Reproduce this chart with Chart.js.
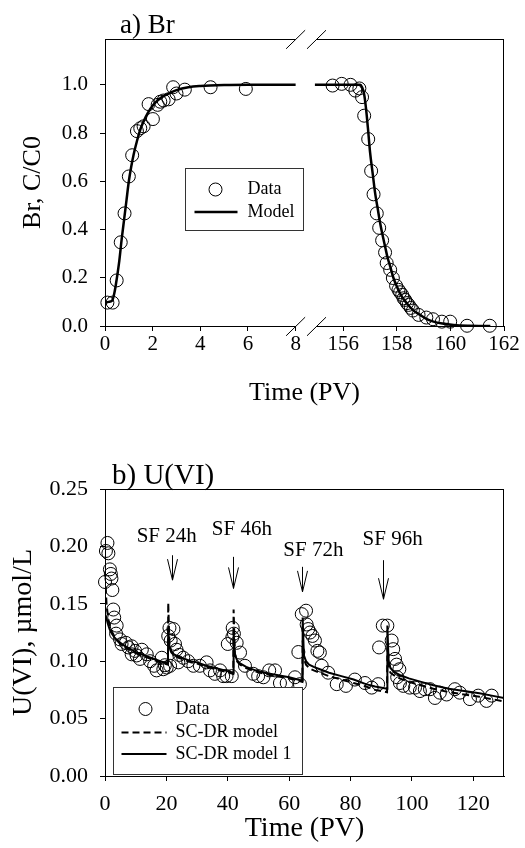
<!DOCTYPE html>
<html lang="en">
<head>
<meta charset="UTF-8">
<title>Br and U(VI) breakthrough</title>
<script src="https://cdn.jsdelivr.net/npm/chart.js"></script>
<style>
    body { margin: 0; background: #fff; }
    #wrap { position: relative; width: 525px; height: 848px; }
    #brChart { position: absolute; left: 0; top: 0; }
    #uChart { position: absolute; left: 0; top: 415px; }
</style>
</head>
<body>
<div id="wrap">
    <canvas id="brChart" width="525" height="415"></canvas>
    <canvas id="uChart" width="525" height="433"></canvas>
</div>
<script>
// ---------- a) Br ----------
const brDataX = [0.1, 0.32, 0.49, 0.66, 0.82, 1.0, 1.14, 1.34, 1.48, 1.62, 1.83, 2.01, 2.21, 2.32, 2.46, 2.67, 2.86, 3.0, 3.35, 4.43, 5.91,
                 155.60, 155.94, 156.27, 156.45, 156.60, 156.70, 156.78, 156.93, 157.04, 157.13, 157.25, 157.34, 157.45, 157.56, 157.62,
                 157.75, 157.85, 157.97, 158.06, 158.12, 158.20, 158.25, 158.31, 158.38, 158.44, 158.52, 158.60, 158.81, 159.10, 159.35,
                 159.68, 159.99, 160.62, 161.47];
const brDataY = [0.097, 0.097, 0.189, 0.347, 0.467, 0.62, 0.708, 0.808, 0.82, 0.828, 0.92, 0.858, 0.917, 0.93, 0.935, 0.94, 0.99, 0.964, 0.98, 0.99, 0.983,
                 0.997, 1.004, 1.0, 0.976, 0.985, 0.949, 0.872, 0.775, 0.643, 0.546, 0.467, 0.407, 0.355, 0.305, 0.261,
                 0.233, 0.199, 0.167, 0.15, 0.14, 0.129, 0.115, 0.108, 0.095, 0.0875, 0.075, 0.064, 0.046, 0.035, 0.028,
                 0.018, 0.018, 0.001, 0.001];

const brModelLeftX = [0, 0.15, 0.3, 0.4, 0.5, 0.6, 0.7, 0.8, 0.9, 1.0, 1.1, 1.2, 1.35, 1.5, 1.7, 1.9, 2.1, 2.4, 2.7, 3.0, 3.5, 4.0, 5.0, 6.0, 7.0, 8.0];
const brModelLeftY = [0.095, 0.1, 0.105, 0.14, 0.2, 0.27, 0.36, 0.44, 0.52, 0.6, 0.66, 0.71, 0.77, 0.82, 0.865, 0.9, 0.925, 0.95, 0.965, 0.978, 0.99, 0.995, 0.999, 1.0, 1.0, 1.0];
const brModelRightX = [154.94, 156.0, 156.63, 156.70, 156.78, 156.85, 156.92, 157.0, 157.1, 157.19, 157.28, 157.37, 157.46, 157.56,
                       157.65, 157.75, 157.87, 158.0, 158.17, 158.37, 158.6, 158.87, 159.1, 159.37, 159.7, 160.12, 160.7, 161.49];
const brModelRightY = [1.0, 1.0, 1.0, 0.99, 0.96, 0.9, 0.82, 0.72, 0.63, 0.55, 0.49, 0.43, 0.38, 0.33,
                       0.285, 0.247, 0.2, 0.164, 0.125, 0.094, 0.066, 0.046, 0.03, 0.018, 0.01, 0.004, 0.001, 0.0];

const brTicksX = [0, 2, 4, 6, 8, 156, 158, 160, 162];
const brTicksY = [0, 0.2, 0.4, 0.6, 0.8, 1.0];

// ---------- b) U(VI) ----------
const uDataX = [0.0, 0.3, 0.8, 1.1, 1.6, 1.9, 2.1, 2.4, 2.7, 3.0, 3.8, 3.6, 4.9, 5.4, 6.8, 7.6, 8.7, 8.7, 9.8, 10.3, 12.0, 11.4, 13.6, 14.7, 16.0, 16.8, 18.5, 19.0, 20.1, 19.5,
                20.6, 21.0, 21.4, 22.3, 22.8, 23.3, 24.2, 25.5, 23.9, 21.2, 27.1, 28.8, 30.9, 33.1, 34.2, 35.8, 37.5, 38.5, 39.6, 41.3,
                40.0, 41.6, 42.0, 42.9, 41.5, 44.0, 45.6, 48.3, 49.9, 51.6, 53.5, 55.4, 57.0, 59.2, 61.9, 63.5,
                63.0, 64.1, 65.5, 65.7, 66.2, 66.8, 67.6, 68.4, 69.2, 70.0, 70.6, 72.7, 75.5, 78.5, 81.4, 84.7, 86.9, 89.0,
                90.5, 92.0, 89.3, 93.4, 93.9, 94.5, 95.0, 95.9, 95.2, 96.1, 97.2, 99.3, 101.0, 102.6, 104.2, 105.9, 107.5, 109.1, 111.3, 114.0, 115.6, 118.9, 121.6, 124.3, 126.0];
const uDataY = [0.169, 0.196, 0.203, 0.194, 0.180, 0.176, 0.172, 0.162, 0.145, 0.138, 0.131, 0.124, 0.119, 0.115, 0.116, 0.112, 0.113, 0.106, 0.109, 0.105, 0.110, 0.102, 0.106, 0.100, 0.096, 0.092, 0.103, 0.093, 0.0945, 0.0965,
                0.122, 0.129, 0.118, 0.128, 0.115, 0.110, 0.1055, 0.103, 0.099, 0.096, 0.100, 0.096, 0.096, 0.099, 0.092, 0.089, 0.092, 0.087, 0.087, 0.087,
                0.115, 0.129, 0.124, 0.116, 0.121, 0.1075, 0.096, 0.089, 0.087, 0.086, 0.092, 0.092, 0.081, 0.081, 0.086, 0.080,
                0.108, 0.141, 0.144, 0.132, 0.128, 0.125, 0.122, 0.118, 0.109, 0.1075, 0.096, 0.090, 0.080, 0.0785, 0.084, 0.081, 0.077, 0.080,
                0.131, 0.131, 0.112, 0.118, 0.1105, 0.102, 0.097, 0.093, 0.086, 0.081, 0.0785, 0.077, 0.077, 0.074, 0.0756, 0.0756, 0.068, 0.0726, 0.071, 0.0756, 0.0726, 0.067, 0.070, 0.0654, 0.070];

const uModelX = [0.2, 0.5, 1, 1.5, 2, 3, 4, 5, 6, 8, 10, 12, 14, 16, 18, 20.5,
                 20.6, 21.0, 21.5, 22.5, 24, 26, 28, 30, 33, 36, 39, 41.8,
                 41.9, 42.3, 43, 44, 46, 49, 52, 56, 60, 64.3,
                 64.4, 64.8, 65.5, 66.5, 68, 70, 73, 77, 81, 85, 88, 91.9,
                 92.0, 92.4, 93, 94, 96, 99, 103, 107, 112, 117, 122, 126, 130];
const uModelDashY = [0.165, 0.150, 0.138, 0.131, 0.127, 0.122, 0.118, 0.115, 0.113, 0.110, 0.107, 0.105, 0.103, 0.101, 0.099, 0.097,
                     0.151, 0.115, 0.109, 0.105, 0.103, 0.101, 0.099, 0.098, 0.095, 0.093, 0.091, 0.089,
                     0.145, 0.107, 0.100, 0.097, 0.094, 0.091, 0.089, 0.087, 0.085, 0.082,
                     0.118, 0.102, 0.097, 0.094, 0.092, 0.090, 0.087, 0.084, 0.081, 0.078, 0.075, 0.073,
                     0.105, 0.094, 0.090, 0.088, 0.085, 0.082, 0.079, 0.076, 0.073, 0.071, 0.069, 0.067, 0.065];
const uModelSolidY = [0.140, 0.137, 0.132, 0.128, 0.125, 0.121, 0.118, 0.116, 0.114, 0.111, 0.108, 0.106, 0.104, 0.102, 0.100, 0.098,
                      0.128, 0.113, 0.109, 0.106, 0.104, 0.102, 0.100, 0.099, 0.096, 0.094, 0.092, 0.090,
                      0.126, 0.106, 0.101, 0.098, 0.095, 0.092, 0.090, 0.088, 0.086, 0.083,
                      0.138, 0.105, 0.100, 0.097, 0.095, 0.093, 0.090, 0.087, 0.084, 0.080, 0.078, 0.076,
                      0.131, 0.100, 0.094, 0.091, 0.088, 0.085, 0.082, 0.079, 0.076, 0.074, 0.072, 0.070, 0.068];

const uTicksX = [0, 20, 40, 60, 80, 100, 120];
const uTicksY = [0, 0.05, 0.10, 0.15, 0.20, 0.25];

// stop-flow marks
const sfLabels = ['SF 24h', 'SF 46h', 'SF 72h', 'SF 96h'];
const sfTextX = [20.1, 44.6, 67.9, 93.7];
const sfTextY = [0.209, 0.215, 0.1967, 0.206];
const sfArrowX = [21.7, 41.8, 64.1, 90.5];
const sfArrowTopY = [0.1923, 0.1909, 0.1822, 0.188];
const sfArrowTipY = [0.1706, 0.1634, 0.1604, 0.154];

// broken time axis for panel a: 0..8 PV, then 155..162 PV drawn a bit wider
const BREAK_LO = 8, BREAK_HI = 155;
function brk(x) {
    return x <= BREAK_LO ? x : 10 + (x - 156) * 1.124;
}

const SERIF = '"Liberation Serif", "Times New Roman", serif';
Chart.defaults.font.family = SERIF;
Chart.defaults.color = '#000';

// frame, break marks, panel title, boxed legend and stop-flow arrows
const panelDecor = {
    id: 'panelDecor',
    afterDatasetsDraw(chart, args, o) {
        const ctx = chart.ctx, a = chart.chartArea;
        const xs = chart.scales.x, ys = chart.scales.y;
        ctx.save();
        ctx.strokeStyle = '#000';
        ctx.lineWidth = 1;
        const top = Math.round(a.top) + 0.5, bot = Math.round(a.bottom) + 0.5, right = Math.round(a.right) - 0.5;
        ctx.beginPath();
        if (o.breakAt) {
            const b1 = xs.getPixelForValue(o.breakAt[0]), b2 = xs.getPixelForValue(o.breakAt[1]);
            [top, bot].forEach(y => {
                ctx.moveTo(a.left, y); ctx.lineTo(b1, y);
                ctx.moveTo(b2, y); ctx.lineTo(a.right, y);
                ctx.moveTo(b1 - 9.5, y + 9.3); ctx.lineTo(b1 + 9.5, y - 9.3);
                ctx.moveTo(b2 - 9.5, y + 9.3); ctx.lineTo(b2 + 9.5, y - 9.3);
            });
        } else {
            ctx.moveTo(a.left, top); ctx.lineTo(a.right, top);
        }
        ctx.moveTo(right, a.top); ctx.lineTo(right, a.bottom);
        ctx.stroke();

        // panel title
        ctx.fillStyle = '#000';
        ctx.font = o.titleSize + 'px ' + SERIF;
        ctx.textAlign = 'left';
        ctx.textBaseline = 'alphabetic';
        ctx.fillText(o.title, a.left + o.titleDx, a.top - o.titleDy);

        // stop-flow arrows
        if (o.arrows) {
            ctx.font = '21px ' + SERIF;
            ctx.textAlign = 'center';
            ctx.textBaseline = 'middle';
            sfLabels.forEach((t, i) => {
                ctx.fillText(t, xs.getPixelForValue(sfTextX[i]), ys.getPixelForValue(sfTextY[i]));
                const ax = Math.round(xs.getPixelForValue(sfArrowX[i])) + 0.5;
                const y0 = ys.getPixelForValue(sfArrowTopY[i]), y1 = ys.getPixelForValue(sfArrowTipY[i]);
                ctx.beginPath();
                ctx.moveTo(ax, y0); ctx.lineTo(ax, y1);
                ctx.moveTo(ax - 5, y1 - 21); ctx.lineTo(ax, y1); ctx.lineTo(ax + 5, y1 - 21);
                ctx.stroke();
            });
        }

        // legend box
        const L = o.legend;
        const x0 = Math.round(a.left + L.x) + 0.5, y0 = Math.round(a.top + L.y) + 0.5;
        ctx.fillStyle = '#fff';
        ctx.fillRect(x0, y0, L.w, L.h);
        ctx.strokeStyle = '#333';
        ctx.strokeRect(x0, y0, L.w, L.h);
        ctx.font = '18px ' + SERIF;
        ctx.textAlign = 'left';
        ctx.textBaseline = 'middle';
        L.rows.forEach((ry, i) => {
            const ds = chart.data.datasets[i];
            const cy = y0 + ry;
            ctx.strokeStyle = '#000';
            ctx.beginPath();
            if (ds.showLine === false) {
                ctx.lineWidth = ds.pointBorderWidth;
                ctx.arc(x0 + L.symX, cy, ds.pointRadius, 0, Math.PI * 2);
                ctx.stroke();
            } else {
                ctx.lineWidth = ds.borderWidth;
                ctx.setLineDash(ds.borderDash || []);
                ctx.moveTo(x0 + L.lineX[0], cy); ctx.lineTo(x0 + L.lineX[1], cy);
                ctx.stroke();
                ctx.setLineDash([]);
            }
            ctx.fillStyle = '#000';
            ctx.fillText(ds.label, x0 + L.textX, cy);
        });
        ctx.restore();
    }
};

function pts(xs, ys, map) {
    return xs.map((x, i) => ({ x: map ? map(x) : x, y: ys[i] }));
}

const dataStyle = {
    showLine: false, pointRadius: 6.5, pointBorderWidth: 1, pointBorderColor: '#000',
    pointBackgroundColor: 'rgba(0,0,0,0)', clip: false
};

// ---- chart a ----
const brModelPts = pts(brModelLeftX, brModelLeftY, brk)
    .concat([{ x: brk(BREAK_LO) + 0.4, y: null }])
    .concat(pts(brModelRightX, brModelRightY, brk));

new Chart(document.getElementById('brChart'), {
    type: 'scatter',
    data: {
        datasets: [
            Object.assign({ label: 'Data', data: pts(brDataX, brDataY, brk) }, dataStyle),
            { label: 'Model', data: brModelPts, showLine: true, pointRadius: 0, borderColor: '#000', borderWidth: 2.5,
              cubicInterpolationMode: 'monotone', spanGaps: false }
        ]
    },
    options: {
        responsive: false,
        animation: false,
        layout: { padding: { top: 39, right: 21, bottom: 0, left: 0 } },
        plugins: {
            legend: { display: false },
            tooltip: { enabled: false },
            panelDecor: {
                title: 'a) Br', titleSize: 27, titleDx: 15, titleDy: 6,
                breakAt: [brk(BREAK_LO), brk(BREAK_HI)],
                legend: { x: 80, y: 129, w: 118, h: 62, rows: [21, 43.5], symX: 30, lineX: [9, 52], textX: 62 }
            }
        },
        scales: {
            x: {
                type: 'linear', min: 0, max: brk(162),
                afterBuildTicks: ax => { ax.ticks = brTicksX.map(v => ({ value: brk(v) })); },
                afterFit: ax => { ax.height = 89; },
                grid: { drawOnChartArea: false, tickLength: 5, color: '#000' },
                border: { display: false },
                ticks: { callback: (v, i) => brTicksX[i], padding: 1, autoSkip: false, maxRotation: 0, font: { size: 21 } },
                title: { display: true, text: 'Time (PV)', font: { size: 26 }, padding: { top: 0, bottom: 6 } }
            },
            y: {
                min: 0, max: 1.19,
                afterBuildTicks: ax => { ax.ticks = brTicksY.map(v => ({ value: v })); },
                afterFit: ax => { ax.width = 105; },
                grid: { drawOnChartArea: false, tickLength: 5, color: '#000' },
                border: { display: true, color: '#000' },
                ticks: { callback: v => v.toFixed(1), padding: 12, font: { size: 21 } },
                title: { display: true, text: 'Br, C/C0', font: { size: 26 }, padding: { top: 18, bottom: 0 } }
            }
        }
    },
    plugins: [panelDecor]
});

// ---- chart b ----
new Chart(document.getElementById('uChart'), {
    type: 'scatter',
    data: {
        datasets: [
            Object.assign({ label: 'Data', data: pts(uDataX, uDataY) }, dataStyle),
            { label: 'SC-DR model', data: pts(uModelX, uModelDashY), showLine: true, pointRadius: 0,
              borderColor: '#000', borderWidth: 2, borderDash: [7, 4] },
            { label: 'SC-DR model 1', data: pts(uModelX, uModelSolidY), showLine: true, pointRadius: 0,
              borderColor: '#000', borderWidth: 2 }
        ]
    },
    options: {
        responsive: false,
        animation: false,
        layout: { padding: { top: 74, right: 21, bottom: 0, left: 0 } },
        plugins: {
            legend: { display: false },
            tooltip: { enabled: false },
            panelDecor: {
                title: 'b) U(VI)', titleSize: 29, titleDx: 7, titleDy: 5, arrows: true,
                legend: { x: 8, y: 198, w: 189, h: 87, rows: [21.5, 45, 66.5], symX: 32, lineX: [8, 53], textX: 62 }
            }
        },
        scales: {
            x: {
                type: 'linear', min: 0, max: 130,
                afterBuildTicks: ax => { ax.ticks = uTicksX.map(v => ({ value: v })); },
                afterFit: ax => { ax.height = 72; },
                grid: { drawOnChartArea: false, tickLength: 5, color: '#000' },
                border: { display: true, color: '#000' },
                ticks: { padding: 10, autoSkip: false, maxRotation: 0, font: { size: 22 } },
                title: { display: true, text: 'Time (PV)', font: { size: 28 }, padding: { top: 0, bottom: 3 } }
            },
            y: {
                min: 0, max: 0.25,
                afterBuildTicks: ax => { ax.ticks = uTicksY.map(v => ({ value: v })); },
                afterFit: ax => { ax.width = 105; },
                grid: { drawOnChartArea: false, tickLength: 5, color: '#000' },
                border: { display: true, color: '#000' },
                ticks: { callback: v => v.toFixed(2), padding: 12, font: { size: 22 } },
                title: { display: true, text: 'U(VI), µmol/L', font: { size: 28 }, padding: { top: 7, bottom: 0 } }
            }
        }
    },
    plugins: [panelDecor]
});
</script>
</body>
</html>
